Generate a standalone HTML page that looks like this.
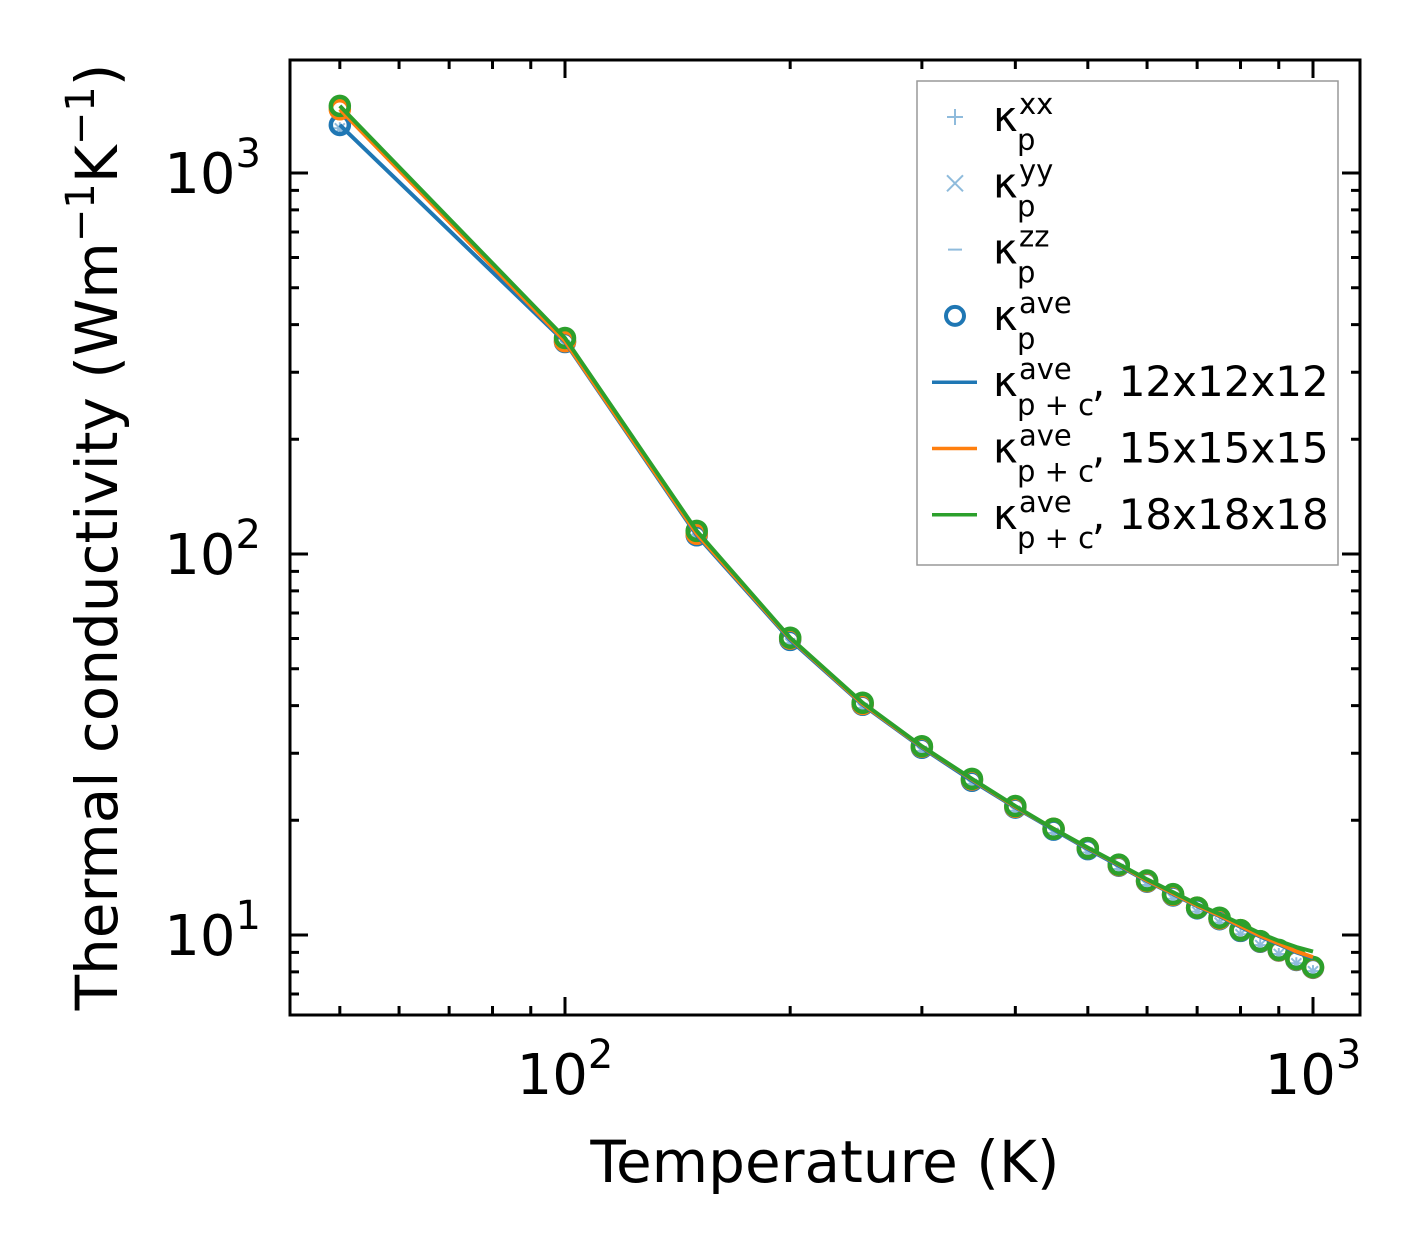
<!DOCTYPE html>
<html><head><meta charset="utf-8"><style>
html,body{margin:0;padding:0;background:#fff;}
svg{display:block;font-family:"DejaVu Sans","Liberation Sans",sans-serif;}
</style></head><body>
<svg id="chart" width="1421" height="1254" viewBox="0 0 1421 1254">
<rect x="0" y="0" width="1421" height="1254" fill="#fff"/>
<g id="marks"></g>
<g id="axes"></g>
<g id="legend">
<rect x="917" y="81" width="421" height="484" fill="#fff" stroke="#999" stroke-width="1.5"/>
</g>
<text x="825" y="1182" font-size="58" text-anchor="middle">Temperature (K)</text>
<text transform="translate(117,537) rotate(-90)" font-size="58" text-anchor="middle">Thermal conductivity (Wm<tspan dy="-23" font-size="40">−1</tspan><tspan dy="23">K</tspan><tspan dy="-23" font-size="40">−1</tspan><tspan dy="23">)</tspan></text>
</svg>
<script>
const temps=[50,100,150,200,250,300,350,400,450,500,550,600,650,700,750,800,850,900,950,1000];
const kAveBlue=[1337,360,112,59.5,40.2,31.0,25.4,21.6,18.9,16.8,15.2,13.8,12.7,11.75,11.0,10.25,9.6,9.1,8.6,8.2];
const kAveOrange=[1470,362,113,60.0,40.4,31.2,25.6,21.7,19.0,16.9,15.25,13.85,12.75,11.8,11.05,10.3,9.63,9.12,8.63,8.22];
const kAveGreen=[1500,369,115,60.3,40.7,31.3,25.7,21.8,19.0,16.9,15.3,13.9,12.8,11.8,11.1,10.3,9.64,9.14,8.65,8.24];
const lineBlue=[1337,360,112,59.5,40.2,31.0,25.4,21.6,18.9,16.8,15.2,13.85,12.8,11.9,11.2,10.5,9.9,9.45,9.0,8.7];
const lineOrange=[1470,362,113,60.0,40.4,31.2,25.6,21.7,19.0,16.9,15.3,13.9,12.85,11.95,11.25,10.55,9.95,9.5,9.05,8.75];
const lineGreen=[1500,369,115,60.3,40.7,31.3,25.7,21.8,19.0,16.95,15.35,14.0,12.95,12.05,11.35,10.7,10.1,9.65,9.3,9.05];
const xTickVals=[100,1000];
const yTickVals=[10,100,1000];
const X0=290,X1=1360,Y0=60,Y1=1015;
function sx(v){return 565+(Math.log10(v)-2)*748;}
function sy(v){return 554-(Math.log10(v)-2)*381;}
const NS="http://www.w3.org/2000/svg";
function mk(tag,attrs,parent){const e=document.createElementNS(NS,tag);for(const k in attrs)e.setAttribute(k,attrs[k]);parent.appendChild(e);return e;}
const marks=document.getElementById('marks');
const lightBlue='#8fbbdc';
temps.forEach((t,i)=>{const x=sx(t),y=sy(kAveBlue[i]*0.98);
 const g=mk('g',{},marks);
 
 
 mk('path',{d:`M${x-6} ${y}h12M${x} ${y-6}v12M${x-5} ${y-5}l10 10M${x+5} ${y-5}l-10 10`,stroke:lightBlue,'stroke-width':2},g);
});
const series=[[lineBlue,kAveBlue,'#1f77b4','12x12x12'],[lineOrange,kAveOrange,'#ff7f0e','15x15x15'],[lineGreen,kAveGreen,'#2ca02c','18x18x18']];
series.forEach(([ln,pts,col,nm])=>{
 temps.forEach((t,i)=>{const c=mk('circle',{cx:sx(t),cy:sy(pts[i]),r:9,fill:'none',stroke:col,'stroke-width':4.5},marks);
  
  });
});
series.forEach(([ln,pts,col,nm])=>{
 const p=mk('polyline',{points:temps.map((t,i)=>sx(t)+','+sy(ln[i])).join(' '),fill:'none',stroke:col,'stroke-width':4},marks);
 
 
});
const axes=document.getElementById('axes');
const frame=mk('rect',{x:X0,y:Y0,width:X1-X0,height:Y1-Y0,fill:'none',stroke:'#000','stroke-width':3},axes);


let d='';
for(let dec=10;dec<=1000;dec*=10){for(let m=1;m<10;m++){const v=dec*m;const x=sx(v);if(x<X0||x>X1)continue;const L=m===1?18:9;d+=`M${x} ${Y1}v${-L}M${x} ${Y0}v${L}`;}}
for(let dec=1;dec<=1000;dec*=10){for(let m=1;m<10;m++){const v=dec*m;const y=sy(v);if(y<Y0||y>Y1)continue;const L=m===1?18:9;d+=`M${X0} ${y}h${L}M${X1} ${y}h${-L}`;}}
const tk=mk('path',{d:d,stroke:'#000','stroke-width':3},axes);


xTickVals.forEach(v=>{const t=mk('text',{x:sx(v),y:1094,'font-size':56,'text-anchor':'middle'},axes);
 
 
 t.innerHTML=`10<tspan dy="-26" font-size="40">${Math.round(Math.log10(v))}</tspan>`;});
yTickVals.forEach(v=>{const t=mk('text',{x:261,y:sy(v)+20,'font-size':56,'text-anchor':'end'},axes);
 
 
 t.innerHTML=`10<tspan dy="-26" font-size="40">${Math.round(Math.log10(v))}</tspan>`;});
const lg=document.getElementById('legend');
const entries=[['xx','','+'],['yy','','x'],['zz','','-'],['ave','','o'],['ave','12x12x12','#1f77b4'],['ave','15x15x15','#ff7f0e'],['ave','18x18x18','#2ca02c']];
entries.forEach((e,i)=>{const y=117+i*66.3;
 const g=mk('g',{},lg);
 
 
 const k=e[2];
 if(k==='+')mk('path',{d:`M${955-8} ${y}h16M955 ${y-8}v16`,stroke:lightBlue,'stroke-width':2},g);
 else if(k==='x')mk('path',{d:`M${955-8} ${y-8}l16 16M${955+8} ${y-8}l-16 16`,stroke:lightBlue,'stroke-width':2},g);
 else if(k==='-')mk('path',{d:`M${955-7} ${y}h14`,stroke:lightBlue,'stroke-width':2},g);
 else if(k==='o')mk('circle',{cx:955,cy:y,r:9,fill:'none',stroke:'#1f77b4','stroke-width':4},g);
 else mk('path',{d:`M932 ${y}h45`,stroke:k,'stroke-width':3.5},g);
 const t=mk('text',{x:993,y:y+14,'font-size':42},g);
 const sub=e[1]?'p + c':'p';
 t.innerHTML=`κ<tspan font-size="29" x="1019" dy="-17">${e[0]}</tspan><tspan font-size="29" x="1017" dy="36">${sub}</tspan>`+(e[1]?`<tspan x="1092" dy="-19">, ${e[1]}</tspan>`:'');
});
</script>
</body></html>
